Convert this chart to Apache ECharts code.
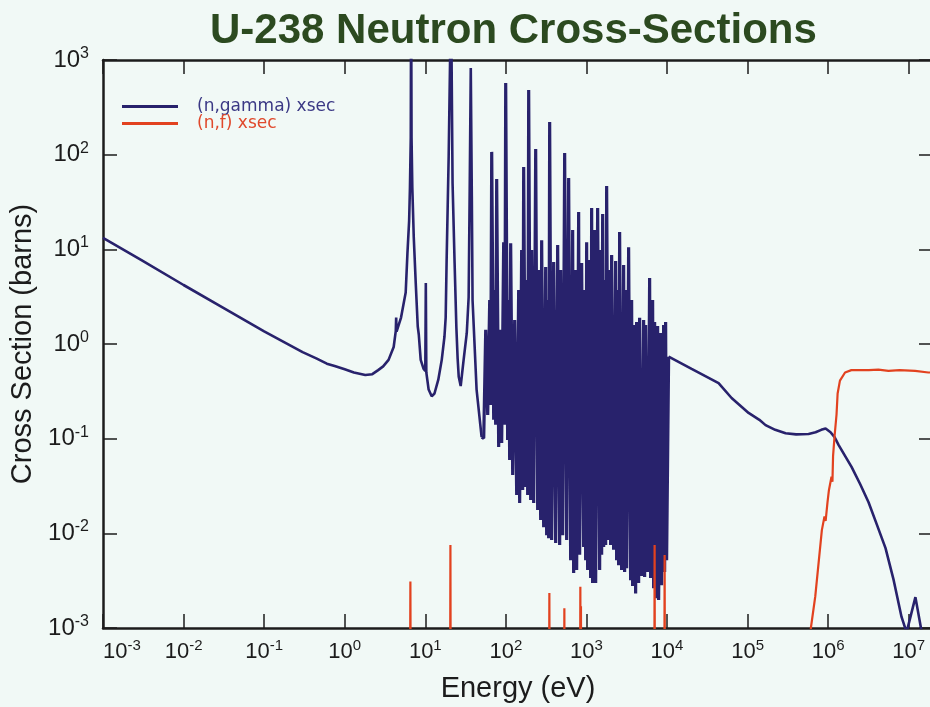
<!DOCTYPE html>
<html>
<head>
<meta charset="utf-8">
<title>U-238 Neutron Cross-Sections</title>
<script src="https://cdn.jsdelivr.net/npm/echarts@6/dist/echarts.min.js"></script>
<style>
  html, body { margin: 0; padding: 0; background: #f1f9f6; }
  #chart { width: 930px; height: 707px; }
</style>
</head>
<body>
<div id="chart"></div>
<script>
// energy in eV, cross section in barns
const gammaThermal = [
  [0.001, 13.2], [0.003, 7.7], [0.01, 4.2], [0.03, 2.45], [0.1, 1.36], [0.3, 0.82],
  [0.45, 0.7], [0.6, 0.62], [0.75, 0.585], [1, 0.54], [1.3, 0.5], [1.8, 0.47], [2.2, 0.48],
  [2.6, 0.53], [3.0, 0.58], [3.5, 0.68], [4.05, 0.93],
  [4.3, 1.37], [4.35, 1.9], [4.4, 1.35], [5.0, 1.9], [5.71, 3.5], [6.0, 9], [6.3, 20],
  [6.45, 45], [6.6, 150], [6.67, 7000], [6.75, 150], [6.9, 45], [7.19, 13.5], [7.61, 4.4],
  [8.06, 1.53], [8.3, 1.26], [8.77, 0.68], [9.5, 0.55], [10.0, 0.52], [10.15, 4.4],
  [10.3, 0.5], [11.0, 0.33], [12.0, 0.28], [13, 0.3], [14.5, 0.42], [16.0, 0.68],
  [17.3, 1.2], [17.9, 1.9], [18.4, 7.7], [19.5, 95], [20.87, 5000], [21.8, 50], [23.1, 7.2],
  [24.3, 1.5], [25.2, 0.7], [26.0, 0.45], [27.5, 0.36], [29.9, 0.68], [32.7, 1.3],
  [34.5, 3.1], [35.5, 36], [36.68, 823], [37.8, 36], [38.6, 2.9], [43.3, 0.33], [50.0, 0.104]
];

// resolved resonance region, peaks and valleys
const gammaResonance = [
  [50.0, 0.104], [53.1, 0.101], [56.2, 1.41], [59.5, 0.178], [63.0, 2.92], [64.8, 0.227], [66.7, 107],
  [70.6, 0.158], [72.6, 3.72], [74.7, 0.14], [76.9, 55.3], [81.4, 0.0817], [86.2, 1.41],
  [88.7, 0.09], [93.9, 11.9], [96.7, 0.14], [99.5, 572], [105.2, 0.0968], [108.3, 2.92],
  [111.4, 0.0595], [114.7, 11.6], [121.5, 0.0414], [128.6, 1.79], [136.2, 0.0254],
  [144.1, 3.72], [148.3, 0.0209], [157.0, 9.84], [161.6, 0.0287], [166.3, 74.1],
  [176.1, 0.0309], [181.2, 4.74], [186.5, 0.0254], [191.9, 482], [203.2, 0.0225],
  [209.0, 9.84], [221.3, 0.0209], [234.4, 115], [248.1, 0.0176], [255.3, 6.05],
  [270.3, 0.0138], [278.1, 12.5], [294.5, 0.0116], [311.8, 6.51], [320.8, 0.00956],
  [330.1, 2.92], [339.6, 0.00889], [349.5, 221], [370.0, 0.0085], [391.8, 7.35],
  [414.9, 0.0079], [439.3, 11.1], [465.1, 0.00753], [478.6, 6.05], [506.7, 0.00956],
  [536.5, 104], [568.0, 0.0085], [601.4, 56.7], [636.8, 0.0052], [674.2, 16.0],
  [693.7, 0.00381], [734.5, 6.05], [755.8, 0.0041], [800.2, 24.8], [823.3, 0.00593],
  [871.8, 7.18], [923.3, 0.00717], [950.2, 3.72], [977.6, 0.0052], [1006, 11.9],
  [1035, 0.0041], [1065, 7.72], [1128, 0.00338], [1160, 27.3], [1194, 0.00298],
  [1264, 16.0], [1301, 0.00298], [1377, 27.3], [1458, 0.0041], [1500, 9.84],
  [1544, 0.00593], [1589, 23.6], [1635, 0.00717], [1682, 4.74], [1731, 0.00753],
  [1781, 46.7], [1885, 0.0085], [1940, 6.05], [1996, 0.00753], [2054, 8.71],
  [2175, 0.0067], [2303, 7.53], [2370, 0.0052], [2439, 3.72], [2509, 0.0046],
  [2581, 15.2], [2733, 0.0041], [2894, 6.84], [2977, 0.0039], [3063, 3.72],
  [3153, 0.00428], [3338, 10.5], [3534, 0.0032], [3637, 2.92], [3743, 0.00277],
  [3851, 1.59], [4078, 0.00232], [4196, 1.71], [4443, 0.00298], [4571, 1.89],
  [4840, 0.00354], [5124, 1.79], [5273, 0.00346], [5425, 1.59], [5745, 0.0039],
  [6083, 4.98], [6259, 0.00338], [6627, 2.92], [6819, 0.00263], [7017, 1.71],
  [7221, 0.00206], [7644, 1.55], [7866, 0.00198], [8328, 1.31], [8570, 0.00283],
  [9075, 1.59], [9338, 0.0039], [9609, 1.71], [9887, 0.0052], [10470, 0.734]
];

const gammaFast = [
  [10470, 0.734], [20200, 0.545], [43650, 0.387], [63300, 0.269], [102900, 0.187],
  [140000, 0.158], [167000, 0.139], [220000, 0.124], [296000, 0.114], [400000, 0.111],
  [571000, 0.112], [698000, 0.117], [820000, 0.124], [929000, 0.128],
  [1.07e6, 0.117], [1.2e6, 0.104], [1.35e6, 0.0856], [1.95e6, 0.0503], [2.5e6, 0.033],
  [3.17e6, 0.0213], [4e6, 0.0125], [5.15e6, 0.00697], [6.5e6, 0.0032],
  [8.14e6, 0.00131], [9.4e6, 0.0009], [1.21e7, 0.00212], [1.45e7, 0.0009], [1.6e7, 0.0007]
];

// (n,f): small sub-threshold spikes, then the fast fission plateau
const fissionLow = [
  [6.45, 1e-4], [6.53, 0.00309], [6.61, 1e-4], [20.3, 1e-4], [20.5, 0.00753], [20.7, 1e-4],
  [343, 1e-4], [346.6, 0.00234], [350, 1e-4], [527, 1e-4], [532, 0.00162], [537, 1e-4],
  [832, 1e-4], [840, 0.00273], [848, 1e-4], [855, 0.0017], [860, 1e-4],
  [6950, 1e-4], [7015, 0.00753], [7080, 1e-4], [9250, 1e-4], [9340, 0.0059], [9430, 1e-4]
];

const fissionFast = [
  [5.9e5, 1e-4], [6.1e5, 0.001], [6.91e5, 0.00214], [8.35e5, 0.0108], [9.0e5, 0.0151],
  [9.3e5, 0.0135], [9.8e5, 0.0211], [1.02e6, 0.0283], [1.1e6, 0.0396], [1.13e6, 0.035],
  [1.15e6, 0.0653], [1.2e6, 0.106], [1.27e6, 0.18], [1.31e6, 0.3], [1.4e6, 0.41],
  [1.62e6, 0.5], [1.94e6, 0.53], [3.2e6, 0.53], [4.2e6, 0.535], [5.6e6, 0.52],
  [7.7e6, 0.53], [1.2e7, 0.52], [1.75e7, 0.5], [2e7, 0.5]
];

const xRange = [1e-3, 2e7];
const yRange = [1e-3, 1e3];

const FONT = '"Liberation Sans", Arial, Helvetica, sans-serif';
const INK = '#1c1c1c';
const BLUE = '#28226c';
const RED = '#e2421f';

function powLabel(v) {
  const e = Math.round(Math.log10(v));
  if (Math.abs(Math.log10(v) - e) > 1e-6) return '';
  return '{b|10}{s|' + e + '}';
}

function labelRich(big, small) {
  return {
    b: { fontSize: big, fontFamily: FONT, color: INK, lineHeight: big + 5 },
    s: { fontSize: small, fontFamily: FONT, color: INK, lineHeight: small + 1, verticalAlign: 'top' }
  };
}

const frameLine = { show: true, lineStyle: { color: INK, width: 2.5 } };
const frameTick = { show: true, inside: true, length: 14, lineStyle: { color: INK, width: 1.5 } };

function blueSeries(data, width) {
  return {
    name: '(n,gamma) xsec',
    type: 'line',
    data: data,
    symbol: 'none',
    clip: true,
    color: BLUE,
    lineStyle: { color: BLUE, width: width, join: 'bevel' }
  };
}

const chart = echarts.init(document.getElementById('chart'), null, { renderer: 'canvas' });

chart.setOption({
  animation: false,
  backgroundColor: '#f1f9f6',
  title: {
    text: 'U-238 Neutron Cross-Sections',
    left: 205,
    top: 5,
    textStyle: { fontFamily: FONT, fontSize: 42, fontWeight: 'bold', color: '#2c4a20' }
  },
  legend: {
    orient: 'vertical',
    left: 122,
    top: 98,
    padding: 0,
    itemWidth: 56,
    itemHeight: 3,
    itemGap: 0,
    icon: 'rect',
    textStyle: { fontFamily: '"DejaVu Sans", Verdana, sans-serif', fontSize: 17, lineHeight: 12, padding: [3, 0, 0, 14] },
    data: [
      { name: '(n,gamma) xsec', textStyle: { color: '#3b3985' } },
      { name: '(n,f) xsec', textStyle: { color: '#e0492c' } }
    ]
  },
  grid: { left: 103, top: 60, width: 830, height: 568, outerBoundsMode: 'none', containLabel: false },
  xAxis: [
    {
      type: 'log', logBase: 10, min: xRange[0], max: xRange[1], interval: 1, splitNumber: 10,
      position: 'bottom',
      axisLine: frameLine, axisTick: frameTick, splitLine: { show: false }, minorTick: { show: false },
      axisLabel: { margin: 10, formatter: powLabel, rich: labelRich(22, 15), alignMinLabel: 'left' },
      name: 'Energy (eV)', nameLocation: 'middle', nameGap: 46,
      nameTextStyle: { fontFamily: FONT, fontSize: 29, color: INK }
    },
    {
      type: 'log', logBase: 10, min: xRange[0], max: xRange[1], interval: 1, splitNumber: 10,
      position: 'top',
      axisLine: frameLine, axisTick: frameTick, splitLine: { show: false },
      axisLabel: { show: false }
    }
  ],
  yAxis: [
    {
      type: 'log', logBase: 10, min: yRange[0], max: yRange[1], interval: 1, splitNumber: 6,
      position: 'left',
      axisLine: frameLine, axisTick: frameTick, splitLine: { show: false }, minorTick: { show: false },
      axisLabel: { margin: 14, formatter: powLabel, rich: labelRich(24, 16) },
      name: 'Cross Section (barns)', nameLocation: 'middle', nameGap: 58,
      nameTextStyle: { fontFamily: FONT, fontSize: 29, color: INK }
    },
    {
      type: 'log', logBase: 10, min: yRange[0], max: yRange[1], interval: 1, splitNumber: 6,
      position: 'right',
      axisLine: frameLine, axisTick: frameTick, splitLine: { show: false },
      axisLabel: { show: false }
    }
  ],
  series: [
    blueSeries(gammaThermal, 2.6),
    blueSeries(gammaResonance, 3.2),
    blueSeries(gammaFast, 2.6),
    {
      name: '(n,f) xsec',
      type: 'line',
      data: fissionLow.concat(fissionFast),
      symbol: 'none',
      clip: true,
      color: RED,
      lineStyle: { color: RED, width: 2.2, join: 'bevel' }
    }
  ]
});
</script>
</body>
</html>
